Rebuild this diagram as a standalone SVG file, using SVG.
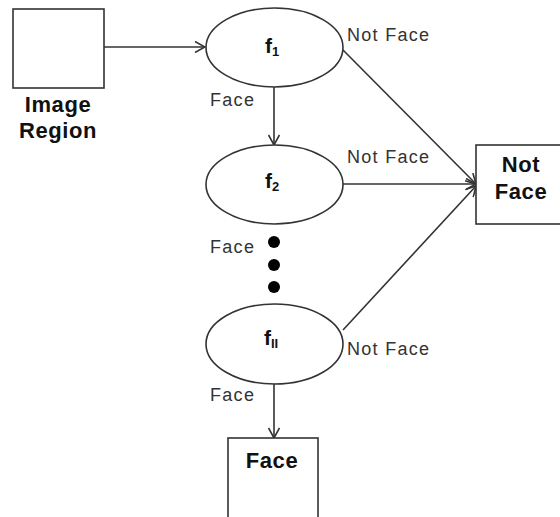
<svg xmlns="http://www.w3.org/2000/svg" width="560" height="517" viewBox="0 0 560 517">
  <style>
    .shape { fill: #ffffff; stroke: #333333; stroke-width: 1.6; }
    .edge { fill: none; stroke: #333333; stroke-width: 1.6; marker-end: url(#open); }
    .lbl { font-family: "Liberation Sans", Arial, sans-serif; font-size: 18px; fill: #333333; letter-spacing: 1.3px; }
    .title { font-family: "Liberation Sans", Arial, sans-serif; font-size: 22px; font-weight: bold; fill: #111111; text-anchor: middle; letter-spacing: 0.6px; }
    .fn { font-family: "Liberation Sans", Arial, sans-serif; font-size: 21px; font-weight: bold; fill: #111111; }
    .sub { font-size: 13px; }
  </style>
  <defs>
    <marker id="open" viewBox="0 0 12 12" refX="11" refY="6" markerWidth="12" markerHeight="12" markerUnits="userSpaceOnUse" orient="auto">
      <path d="M1,0.5 L11,6 L1,11.5" fill="none" stroke="#333333" stroke-width="1.6"/>
    </marker>
  </defs>

  <rect width="560" height="517" fill="#ffffff"/>

  <g id="connectors">
    <line class="edge" x1="104" y1="47" x2="205" y2="47"/>
    <line class="edge" x1="274" y1="87" x2="274" y2="145"/>
    <line class="edge" x1="343" y1="50" x2="476" y2="184"/>
    <line class="edge" x1="343" y1="184" x2="476" y2="184"/>
    <line class="edge" x1="343" y1="330" x2="476" y2="186"/>
    <line class="edge" x1="274" y1="384" x2="274" y2="438"/>
  </g>

  <g id="image-region">
    <rect class="shape" x="13" y="9" width="91" height="79"/>
    <text class="title" x="58" y="112">Image</text>
    <text class="title" x="58" y="138">Region</text>
  </g>

  <g id="f1">
    <ellipse class="shape" cx="274.5" cy="47.5" rx="68.5" ry="39.5"/>
    <text class="fn" x="265" y="53">f<tspan class="sub" dy="3">1</tspan></text>
  </g>

  <g id="f2">
    <ellipse class="shape" cx="274.5" cy="184.5" rx="68.5" ry="39.5"/>
    <text class="fn" x="265" y="188">f<tspan class="sub" dy="3">2</tspan></text>
  </g>

  <g id="ellipsis">
    <circle cx="274" cy="242" r="6" fill="#000000"/>
    <circle cx="274" cy="265" r="6" fill="#000000"/>
    <circle cx="274" cy="287" r="6" fill="#000000"/>
  </g>

  <g id="fn">
    <ellipse class="shape" cx="274.5" cy="344" rx="68.5" ry="40"/>
    <text class="fn" x="264" y="345">f<tspan class="sub" dy="3">II</tspan></text>
  </g>

  <g id="not-face">
    <rect class="shape" x="476" y="145" width="90" height="79"/>
    <text class="title" x="521" y="172">Not</text>
    <text class="title" x="521" y="199">Face</text>
  </g>

  <g id="face">
    <rect class="shape" x="228" y="438" width="90" height="90"/>
    <text class="title" x="272" y="468">Face</text>
  </g>

  <g id="edge-labels">
    <text class="lbl" x="347" y="41">Not Face</text>
    <text class="lbl" x="347" y="163">Not Face</text>
    <text class="lbl" x="347" y="355">Not Face</text>
    <text class="lbl" x="210" y="106">Face</text>
    <text class="lbl" x="210" y="253">Face</text>
    <text class="lbl" x="210" y="401">Face</text>
  </g>
</svg>
